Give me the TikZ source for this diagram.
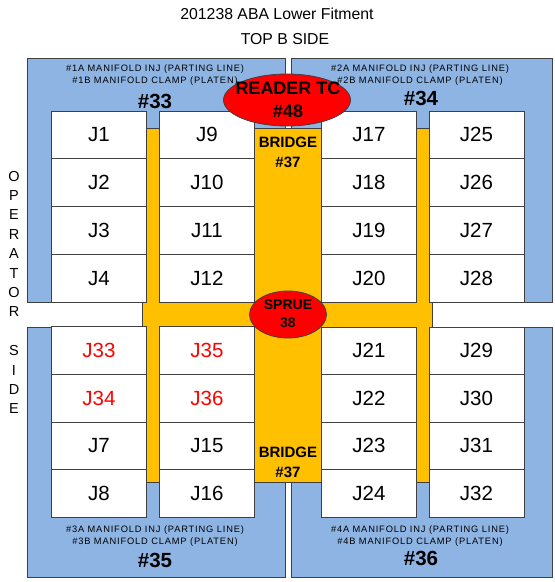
\documentclass[tikz,border=0pt]{standalone}
\usepackage{fontspec}
\setmainfont{Liberation Sans}
\newfontfamily\spacedfont[LetterSpace=9]{Liberation Sans}
\usetikzlibrary{shapes.geometric}
\definecolor{qblue}{HTML}{8EB4E3}
\definecolor{qorange}{HTML}{FFC000}
\definecolor{qred}{HTML}{FF0000}
\definecolor{qline}{HTML}{404040}
\tikzset{
  quad/.style={draw=qline, line width=0.8pt, fill=qblue, inner sep=0pt},
  jbox/.style={draw=qline, line width=0.8pt, fill=white, minimum width=95pt, minimum height=47.75pt, inner sep=0pt, font=\fontsize{20.5}{22}\selectfont},
  jred/.style={jbox, text=qred},
  manif/.style={font=\spacedfont\fontsize{9.3}{12}\selectfont, align=center, inner sep=0pt},
  qnum/.style={font=\fontsize{20.5}{22}\selectfont\bfseries, inner sep=0pt},
  bridgetxt/.style={font=\fontsize{15}{20}\selectfont\bfseries, align=center, inner sep=0pt},
  redell/.style={ellipse, draw=qline, line width=0.8pt, fill=qred, inner sep=0pt},
  title/.style={font=\fontsize{15.8}{17}\selectfont, inner sep=0pt}
}
\begin{document}
\begin{tikzpicture}[x=1pt,y=-1pt]
\useasboundingbox (0,0) rectangle (555,582);
% titles
\node[title] (t1) at (277,14) {201238 ABA Lower Fitment};
\node[title] (t2) at (285,39) {TOP B SIDE};
% operator side
\node[align=center, inner sep=0pt, font=\fontsize{14.5}{19.4}\selectfont] (op) at (14,292.5)
  {O\\P\\E\\R\\A\\T\\O\\R\\[19.4pt]S\\I\\D\\E};
% quadrants
\node[quad, minimum width=258pt, minimum height=244pt] (q33) at (156,180) {};
\node[quad, minimum width=261pt, minimum height=244pt] (q34) at (421.5,180) {};
\node[quad, minimum width=258pt, minimum height=250pt] (q35) at (156,452) {};
\node[quad, minimum width=261pt, minimum height=250pt] (q36) at (421.5,452) {};
% orange cross
\node[draw=qline, line width=0.6pt, fill=qorange, minimum width=290pt, minimum height=354pt, inner sep=0pt] (orange) at (287,305) {};
% quadrant texts
\node[manif] (m1) at (155,75) {\#1A MANIFOLD INJ (PARTING LINE)\\\#1B MANIFOLD CLAMP (PLATEN)};
\node[manif] (m2) at (420,75) {\#2A MANIFOLD INJ (PARTING LINE)\\\#2B MANIFOLD CLAMP (PLATEN)};
\node[manif] (m3) at (155,536) {\#3A MANIFOLD INJ (PARTING LINE)\\\#3B MANIFOLD CLAMP (PLATEN)};
\node[manif] (m4) at (420,536) {\#4A MANIFOLD INJ (PARTING LINE)\\\#4B MANIFOLD CLAMP (PLATEN)};
\node[qnum] (n33) at (155,101) {\#33};
\node[qnum] (n34) at (421,98) {\#34};
\node[qnum] (n35) at (155,560) {\#35};
\node[qnum] (n36) at (421,558) {\#36};
% boxes column 1
\node[jbox] (J1) at (99,134.875) {J1};
\node[jbox] (J2) at (99,182.625) {J2};
\node[jbox] (J3) at (99,230.375) {J3};
\node[jbox] (J4) at (99,278.125) {J4};
\node[jred] (J33) at (99,350.75) {J33};
\node[jred] (J34) at (99,398.25) {J34};
\node[jbox, minimum height=47.5pt] (J7) at (99,445.75) {J7};
\node[jbox, minimum height=47.5pt] (J8) at (99,493.25) {J8};
% column 2
\node[jbox] (J9) at (207,134.875) {J9};
\node[jbox] (J10) at (207,182.625) {J10};
\node[jbox] (J11) at (207,230.375) {J11};
\node[jbox] (J12) at (207,278.125) {J12};
\node[jred] (J35) at (207,350.75) {J35};
\node[jred] (J36) at (207,398.25) {J36};
\node[jbox, minimum height=47.5pt] (J15) at (207,445.75) {J15};
\node[jbox, minimum height=47.5pt] (J16) at (207,493.25) {J16};
% column 3
\node[jbox] (J17) at (369,134.875) {J17};
\node[jbox] (J18) at (369,182.625) {J18};
\node[jbox] (J19) at (369,230.375) {J19};
\node[jbox] (J20) at (369,278.125) {J20};
\node[jbox, minimum height=47.5pt] (J21) at (369,350.75) {J21};
\node[jbox, minimum height=47.5pt] (J22) at (369,398.25) {J22};
\node[jbox, minimum height=47.5pt] (J23) at (369,445.75) {J23};
\node[jbox, minimum height=47.5pt] (J24) at (369,493.25) {J24};
% column 4
\node[jbox] (J25) at (476.5,134.875) {J25};
\node[jbox] (J26) at (476.5,182.625) {J26};
\node[jbox] (J27) at (476.5,230.375) {J27};
\node[jbox] (J28) at (476.5,278.125) {J28};
\node[jbox, minimum height=47.5pt] (J29) at (476.5,350.75) {J29};
\node[jbox, minimum height=47.5pt] (J30) at (476.5,398.25) {J30};
\node[jbox, minimum height=47.5pt] (J31) at (476.5,445.75) {J31};
\node[jbox, minimum height=47.5pt] (J32) at (476.5,493.25) {J32};
% bridges
\node[bridgetxt] (b1) at (288,152) {BRIDGE\\\#37};
\node[bridgetxt] (b2) at (288,462.5) {BRIDGE\\\#37};
% reader TC
\node[redell, minimum width=127pt, minimum height=52pt] (reader) at (287,100) {};
\node[font=\fontsize{18}{23}\selectfont\bfseries, align=center, inner sep=0pt] (readertxt) at (288,99.5) {READER TC\\\#48};
% sprue
\node[redell, minimum width=77pt, minimum height=47pt] (sprue) at (288,314.5) {};
\node[font=\fontsize{14}{18.5}\selectfont\bfseries, align=center, inner sep=0pt] (spruetxt) at (288,313.5) {SPRUE\\38};
\end{tikzpicture}
\end{document}
